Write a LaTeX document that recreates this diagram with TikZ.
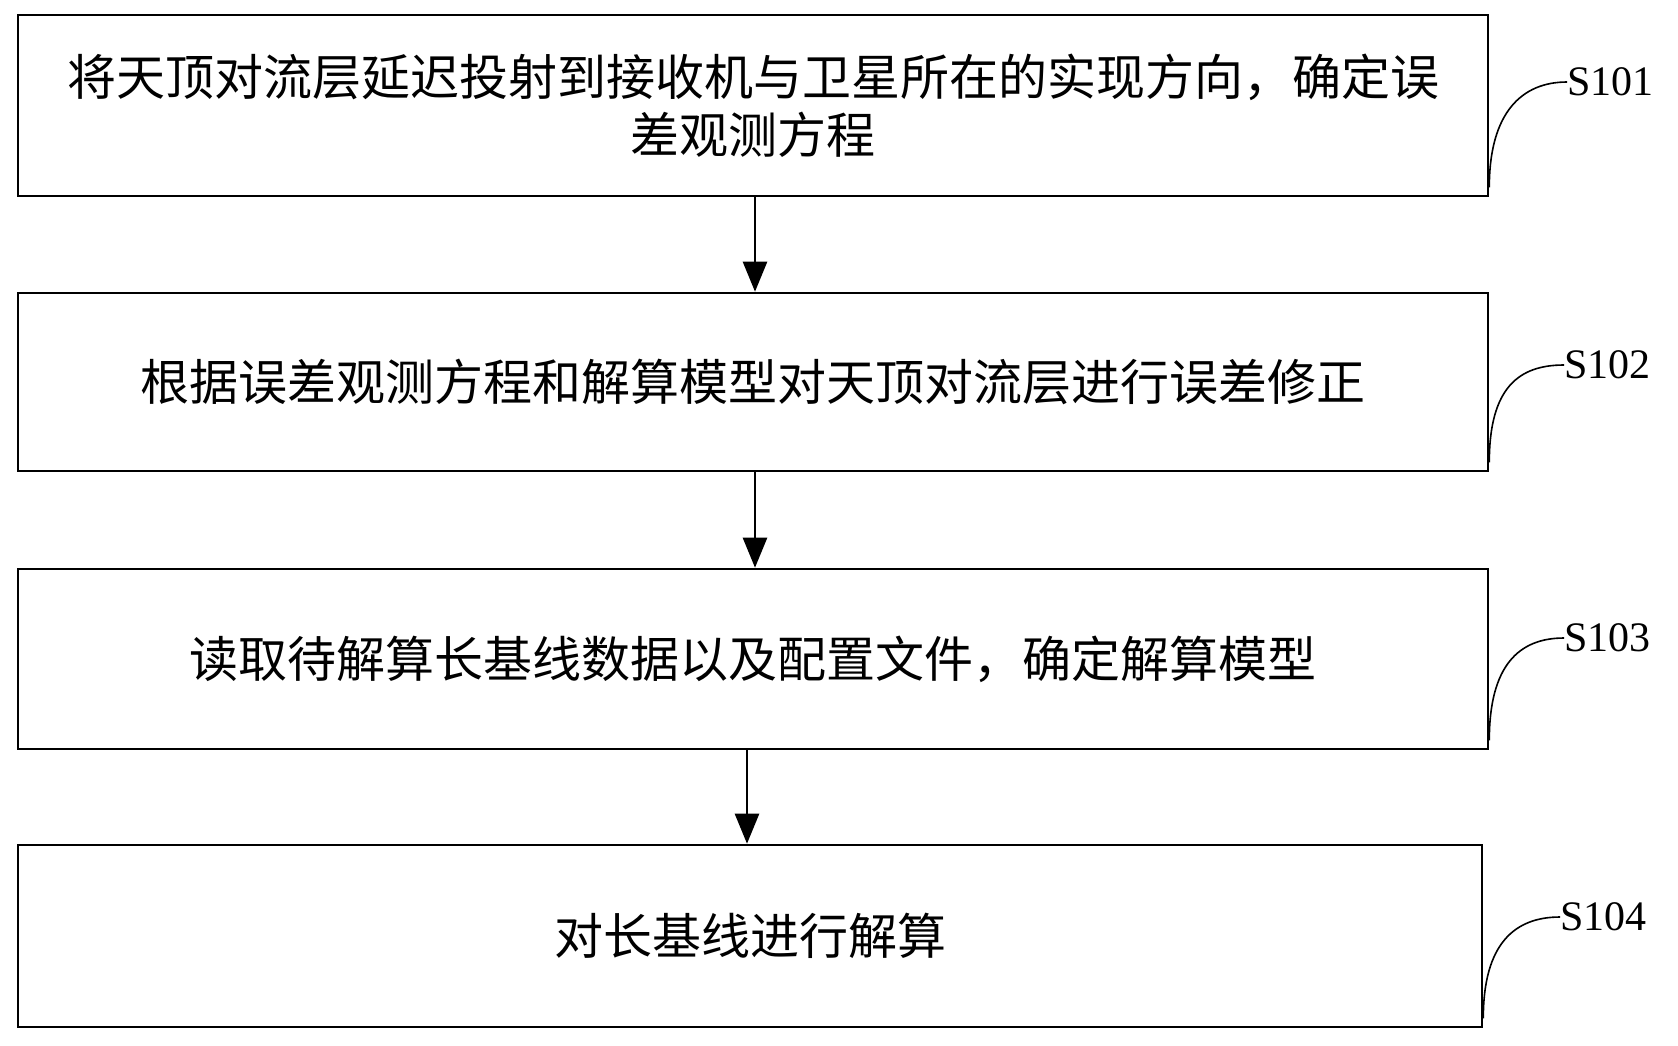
\documentclass[tikz,border=0pt]{standalone}
\usepackage{fontspec}
\setmainfont{Liberation Serif}
\newfontfamily\cjk{Noto Sans CJK SC}
\usetikzlibrary{arrows.meta}
\begin{document}
\begin{tikzpicture}[x=1pt,y=-1pt,
  stepbox/.style={draw,line width=2.6pt,inner sep=0pt,font=\cjk\fontsize{49}{58}\selectfont,align=center,text width=1450pt},
  lbl/.style={font=\fontsize{42}{46}\selectfont,anchor=west,inner sep=0pt},
  arr/.style={line width=2.6pt,-{Triangle[length=30pt,width=24pt]}},
  lead/.style={line width=1.6pt}]
\useasboundingbox (0,0) rectangle (1678,1045);
\node[stepbox,minimum width=1470pt,minimum height=181pt] (b1) at (753,105.5) {将天顶对流层延迟投射到接收机与卫星所在的实现方向，确定误\\差观测方程};
\node[stepbox,minimum width=1470pt,minimum height=178pt] (b2) at (753,382) {根据误差观测方程和解算模型对天顶对流层进行误差修正};
\node[stepbox,minimum width=1470pt,minimum height=180pt] (b3) at (753,659) {读取待解算长基线数据以及配置文件，确定解算模型};
\node[stepbox,minimum width=1464pt,minimum height=182pt] (b4) at (750,936) {对长基线进行解算};
\draw[arr] (b1.south -| 755,0) -- (b2.north -| 755,0);
\draw[arr] (b2.south -| 755,0) -- (b3.north -| 755,0);
\draw[arr] (b3.south -| 747,0) -- (b4.north -| 747,0);
\node[lbl] (l1) at (1567,82) {S101};
\node[lbl] (l2) at (1564,365) {S102};
\node[lbl] (l3) at (1564,638) {S103};
\node[lbl] (l4) at (1560,917) {S104};
\foreach \i in {1,2,3,4}{
  \draw[lead] ([yshift=10pt]b\i.south east) .. controls ([yshift=85pt]b\i.south east) and ([xshift=-45pt]l\i.west) .. (l\i.west);
}
\end{tikzpicture}
\end{document}
